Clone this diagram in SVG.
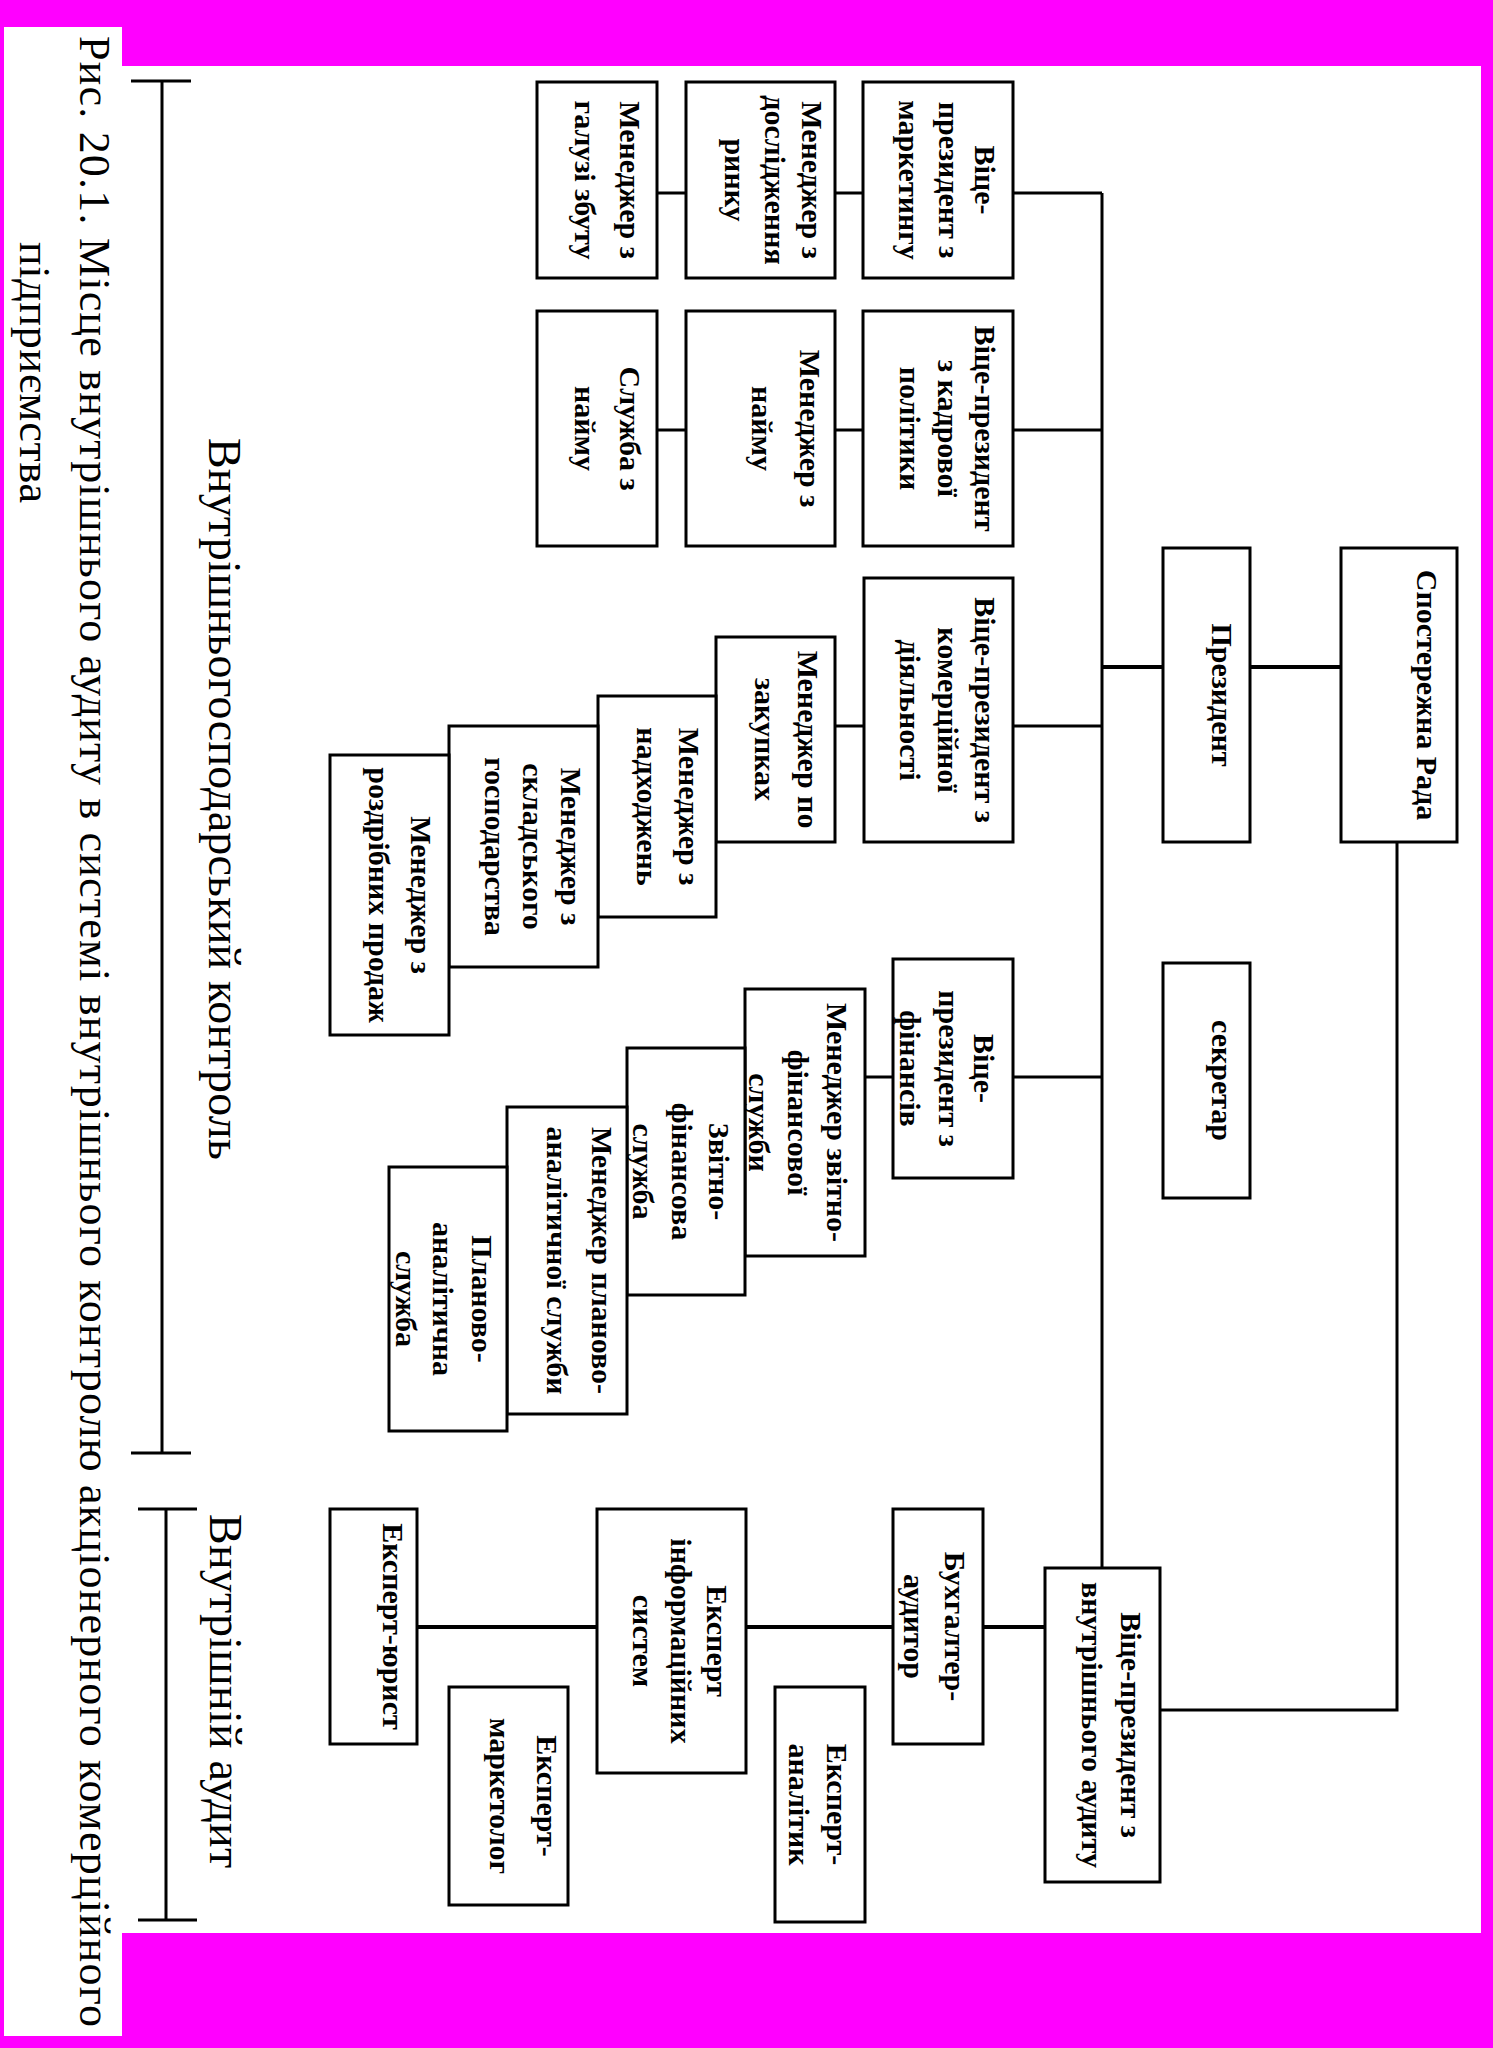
<svg xmlns="http://www.w3.org/2000/svg" width="1493" height="2048" viewBox="0 0 1493 2048">
<style>
.box{fill:#fff;stroke:#000;stroke-width:3}
.t{font-family:"Liberation Serif","Times New Roman",serif;font-weight:bold;font-size:30px;text-anchor:middle;fill:#000}
.lbl{font-family:"Liberation Serif","Times New Roman",serif;font-size:46px;fill:#000}
.cap{font-family:"Liberation Serif","Times New Roman",serif;font-size:44px;fill:#000}
.c{stroke:#000;stroke-width:3;fill:none}
.ck{stroke:#000;stroke-width:4;fill:none}
</style>
<rect x="0" y="0" width="1493" height="2048" fill="#ff00ff"/>
<rect x="122" y="66" width="1359" height="1867" fill="#fff"/>
<rect x="4" y="27" width="118" height="2009" fill="#fff"/>

<g id="caption">
<text class="cap" transform="translate(80,36) rotate(90)" textLength="1991" lengthAdjust="spacing">Рис. 20.1. Місце внутрішнього аудиту в системі внутрішнього контролю акціонерного комерційного</text>
<text class="cap" transform="translate(20,242) rotate(90)" textLength="261" lengthAdjust="spacing">підприємства</text>
</g>

<g id="brackets">
<path class="c" d="M131 81H191M162 81V1453M131 1453H191"/>
<path class="c" d="M138 1509H197M166 1509V1920M138 1920H197"/>
<text class="lbl" transform="translate(209,438) rotate(90)" textLength="722" lengthAdjust="spacing">Внутрішньогосподарський контроль</text>
<text class="lbl" transform="translate(210,1514) rotate(90)" textLength="354" lengthAdjust="spacing">Внутрішній аудит</text>
</g>

<g id="connectors">
<path class="c" d="M1102 193V1568"/>
<path class="c" d="M657 193H686M835 193H863M1013 193H1102"/>
<path class="c" d="M657 430H686M835 430H863M1013 430H1102"/>
<path class="c" d="M835 726H864M1013 726H1102"/>
<path class="c" d="M865 1077H893M1013 1077H1102"/>
<path class="ck" d="M1102 667H1163M1250 667H1341"/>
<path class="c" d="M1397 842V1710H1160"/>
<path class="ck" d="M417 1627H597M746 1627H893M983 1627H1045"/>
</g>

<g id="n1"><rect class="box" x="863" y="82" width="150" height="196"/>
<text class="t" transform="translate(975,180) rotate(90)">Віце-</text>
<text class="t" transform="translate(939,180) rotate(90)">президент з</text>
<text class="t" transform="translate(899,180) rotate(90)">маркетингу</text></g>

<g id="n2"><rect class="box" x="686" y="82" width="149" height="196"/>
<text class="t" transform="translate(802,180) rotate(90)">Менеджер з</text>
<text class="t" transform="translate(765,180) rotate(90)">дослідження</text>
<text class="t" transform="translate(725,180) rotate(90)">ринку</text></g>

<g id="n3"><rect class="box" x="537" y="82" width="120" height="196"/>
<text class="t" transform="translate(620,180) rotate(90)">Менеджер з</text>
<text class="t" transform="translate(575,180) rotate(90)">галузі збуту</text></g>

<g id="n4"><rect class="box" x="863" y="311" width="150" height="235"/>
<text class="t" transform="translate(975,428.5) rotate(90)">Віце-президент</text>
<text class="t" transform="translate(938,428.5) rotate(90)">з кадрової</text>
<text class="t" transform="translate(900,428.5) rotate(90)">політики</text></g>

<g id="n5"><rect class="box" x="686" y="311" width="149" height="235"/>
<text class="t" transform="translate(800,428.5) rotate(90)">Менеджер з</text>
<text class="t" transform="translate(752,428.5) rotate(90)">найму</text></g>

<g id="n6"><rect class="box" x="537" y="311" width="120" height="235"/>
<text class="t" transform="translate(620,428.5) rotate(90)">Служба з</text>
<text class="t" transform="translate(575,428.5) rotate(90)">найму</text></g>

<g id="n7"><rect class="box" x="864" y="578" width="149" height="264"/>
<text class="t" transform="translate(975,710) rotate(90)">Віце-президент з</text>
<text class="t" transform="translate(938,710) rotate(90)">комерційної</text>
<text class="t" transform="translate(900,710) rotate(90)">діяльності</text></g>

<g id="n8"><rect class="box" x="716" y="637" width="119" height="205"/>
<text class="t" transform="translate(798,739.5) rotate(90)">Менеджер по</text>
<text class="t" transform="translate(755,739.5) rotate(90)">закупках</text></g>

<g id="n9"><rect class="box" x="598" y="696" width="118" height="221"/>
<text class="t" transform="translate(679,806.5) rotate(90)">Менеджер з</text>
<text class="t" transform="translate(637,806.5) rotate(90)">надходжень</text></g>

<g id="n10"><rect class="box" x="449" y="726" width="149" height="241"/>
<text class="t" transform="translate(561,846.5) rotate(90)">Менеджер з</text>
<text class="t" transform="translate(523,846.5) rotate(90)">складського</text>
<text class="t" transform="translate(485,846.5) rotate(90)">господарства</text></g>

<g id="n11"><rect class="box" x="330" y="755" width="119" height="280"/>
<text class="t" transform="translate(411,895) rotate(90)">Менеджер з</text>
<text class="t" transform="translate(369,895) rotate(90)">роздрібних продаж</text></g>

<g id="n12"><rect class="box" x="893" y="959" width="120" height="219"/>
<text class="t" transform="translate(974,1068.5) rotate(90)">Віце-</text>
<text class="t" transform="translate(939,1068.5) rotate(90)">президент з</text>
<text class="t" transform="translate(900,1068.5) rotate(90)">фінансів</text></g>

<g id="n13"><rect class="box" x="745" y="989" width="120" height="267"/>
<text class="t" transform="translate(827,1122.5) rotate(90)">Менеджер звітно-</text>
<text class="t" transform="translate(788,1122.5) rotate(90)">фінансової</text>
<text class="t" transform="translate(749,1122.5) rotate(90)">служби</text></g>

<g id="n14"><rect class="box" x="627" y="1048" width="118" height="247"/>
<text class="t" transform="translate(709,1171.5) rotate(90)">Звітно-</text>
<text class="t" transform="translate(672,1171.5) rotate(90)">фінансова</text>
<text class="t" transform="translate(633,1171.5) rotate(90)">служба</text></g>

<g id="n15"><rect class="box" x="507" y="1107" width="120" height="307"/>
<text class="t" transform="translate(592,1260.5) rotate(90)">Менеджер планово-</text>
<text class="t" transform="translate(547,1260.5) rotate(90)">аналітичної служби</text></g>

<g id="n16"><rect class="box" x="389" y="1167" width="118" height="264"/>
<text class="t" transform="translate(472,1299) rotate(90)">Планово-</text>
<text class="t" transform="translate(433,1299) rotate(90)">аналітична</text>
<text class="t" transform="translate(396,1299) rotate(90)">служба</text></g>

<g id="n17"><rect class="box" x="1163" y="548" width="87" height="294"/>
<text class="t" transform="translate(1212,695) rotate(90)">Президент</text></g>

<g id="n18"><rect class="box" x="1341" y="548" width="116" height="294"/>
<text class="t" transform="translate(1417,695) rotate(90)">Спостережна Рада</text></g>

<g id="n19"><rect class="box" x="1163" y="963" width="87" height="235"/>
<text class="t" transform="translate(1212,1080.5) rotate(90)">секретар</text></g>

<g id="n20"><rect class="box" x="330" y="1509" width="87" height="235"/>
<text class="t" transform="translate(383,1626.5) rotate(90)">Експерт-юрист</text></g>

<g id="n21"><rect class="box" x="449" y="1687" width="119" height="218"/>
<text class="t" transform="translate(537,1796) rotate(90)">Експерт-</text>
<text class="t" transform="translate(490,1796) rotate(90)">маркетолог</text></g>

<g id="n22"><rect class="box" x="597" y="1509" width="149" height="264"/>
<text class="t" transform="translate(707,1641) rotate(90)">Експерт</text>
<text class="t" transform="translate(671,1641) rotate(90)">інформаційних</text>
<text class="t" transform="translate(633,1641) rotate(90)">систем</text></g>

<g id="n23"><rect class="box" x="775" y="1687" width="90" height="235"/>
<text class="t" transform="translate(827,1804.5) rotate(90)">Експерт-</text>
<text class="t" transform="translate(789,1804.5) rotate(90)">аналітик</text></g>

<g id="n24"><rect class="box" x="893" y="1509" width="90" height="235"/>
<text class="t" transform="translate(945,1626.5) rotate(90)">Бухгалтер-</text>
<text class="t" transform="translate(904,1626.5) rotate(90)">аудитор</text></g>

<g id="n25"><rect class="box" x="1045" y="1568" width="115" height="314"/>
<text class="t" transform="translate(1121,1725) rotate(90)">Віце-президент з</text>
<text class="t" transform="translate(1082,1725) rotate(90)">внутрішнього аудиту</text></g>
</svg>
